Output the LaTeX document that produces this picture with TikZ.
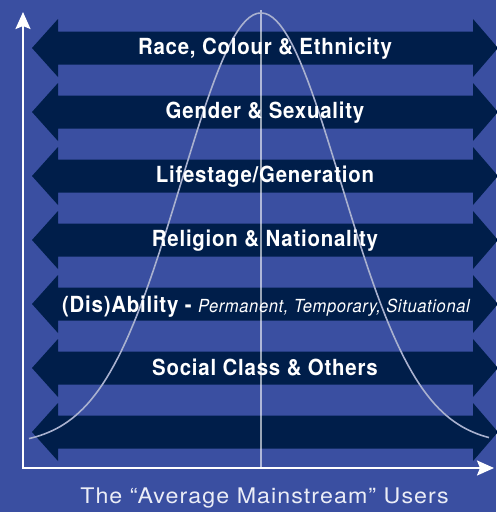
\documentclass[tikz,border=0pt]{standalone}
\usepackage{fontspec}
\setmainfont{TeX Gyre Heros}
\newfontfamily\condfont[FakeStretch=0.92, LetterSpace=3.5]{TeX Gyre Heros}
\newfontfamily\widefont[FakeStretch=1.08, LetterSpace=5]{TeX Gyre Heros}
\usepackage{tikz}
\usetikzlibrary{arrows.meta,positioning}
\definecolor{bgblue}{HTML}{3A4FA1}
\definecolor{navy}{HTML}{001E4A}
\definecolor{curvegray}{HTML}{A9B1CF}
\tikzset{
  band/.style={fill=navy},
  bandlabel/.style={text=white, anchor=base, inner sep=0pt, font=\condfont\bfseries\fontsize{22.2}{22.2}\selectfont},
  axis/.style={white, line width=2pt, line join=miter, {Stealth[length=17pt,width=15pt,inset=3pt]}-{Stealth[length=17pt,width=15pt,inset=3pt]}},
}

\begin{document}
\begin{tikzpicture}[x=1pt, y=-1pt]
    \fill[bgblue] (0,0) rectangle (496,512);
    \useasboundingbox (0,0) rectangle (496,512);

    % double-headed bands
    \foreach \yc in {48,112,...,432}
        \fill[band] (32,\yc) -- (58,\yc-29) -- (58,\yc-16.5) -- (473,\yc-16.5) -- (473,\yc-29) -- (498,\yc)
            -- (473,\yc+29) -- (473,\yc+16.5) -- (58,\yc+16.5) -- (58,\yc+29) -- cycle;

    % axes and centre line
    \coordinate (origin) at (23,468);
    \coordinate (ytip) at (23,12);
    \coordinate (xtip) at (494,468);
    \coordinate (peak) at (261,10);
    \draw[axis] (ytip) -- (origin) -- (xtip);
    \draw[white, opacity=0.6, line width=1.2pt] (peak) -- (261,468);

    % bell curve
    \draw[curvegray, line width=1.6pt] plot[domain=29:489, samples=120] (\x, {445-432*exp(-0.5*((\x-261)/80)^2)});

    \node[bandlabel] (race) at (265,54) {Race, Colour \& Ethnicity};
    \node[bandlabel] (gender) at (265,118.5) {Gender \& Sexuality};
    \node[bandlabel] (life) at (265,182.5) {Lifestage/Generation};
    \node[bandlabel] (religion) at (265,246.5) {Religion \& Nationality};
    \node[bandlabel] (ability) at (266,312) {(Dis)Ability - {\mdseries\itshape\fontsize{18}{18}\selectfont Permanent, Temporary, Situational}};
    \node[bandlabel] (social) at (265,375) {Social Class \& Others};

    \node[anchor=base, inner sep=0pt, text=white!90!bgblue, font=\widefont\fontsize{21.5}{21.5}\selectfont] (users) at (264.5,503.3) {The “Average Mainstream” Users};
\end{tikzpicture}
\end{document}
